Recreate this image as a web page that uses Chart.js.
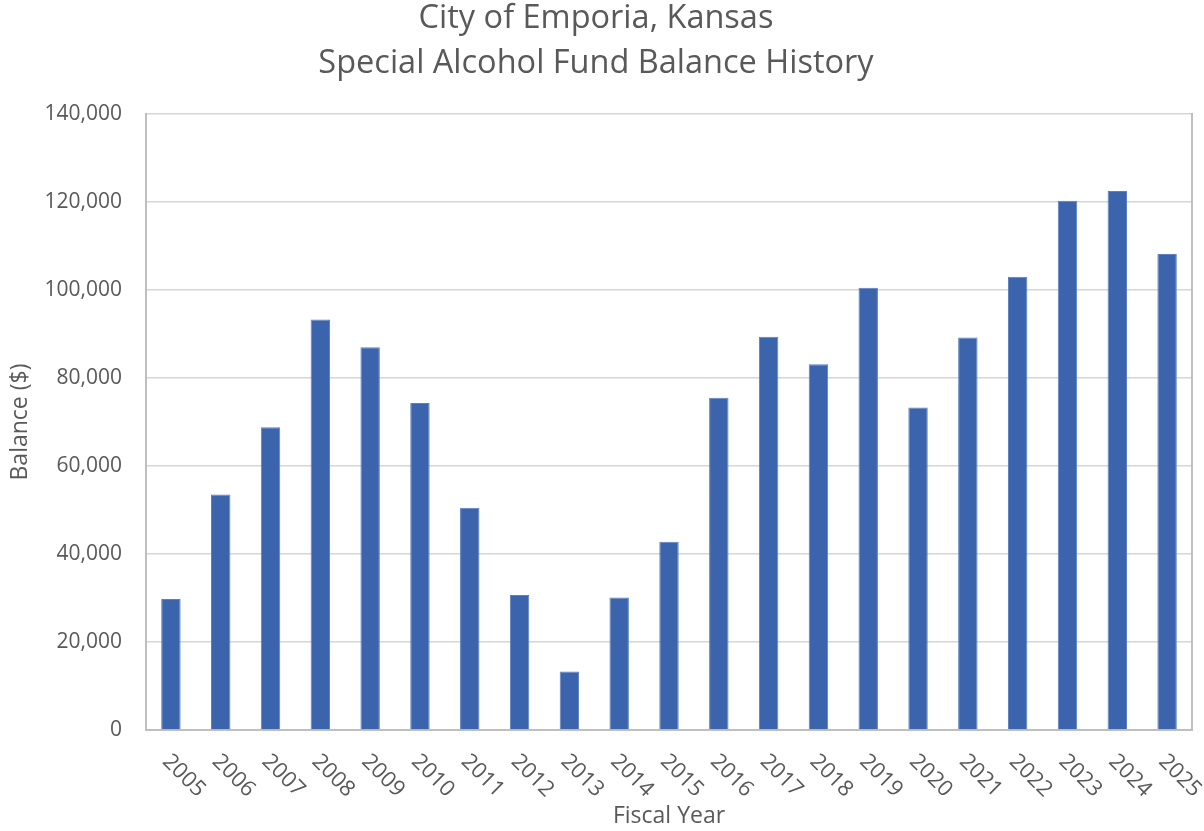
<!DOCTYPE html>
<html>
<head>
<meta charset="utf-8">
<script src="https://cdn.jsdelivr.net/npm/chart.js@4"></script>
<style>
    html, body { margin: 0; padding: 0; background: #ffffff; }
    canvas { display: block; }
</style>
</head>
<body>
<canvas id="fundChart" width="1204" height="831"></canvas>
<script>
var years = ['2005', '2006', '2007', '2008', '2009', '2010', '2011', '2012', '2013', '2014', '2015',
    '2016', '2017', '2018', '2019', '2020', '2021', '2022', '2023', '2024', '2025'];
var balances = [29800, 53500, 68800, 93300, 87000, 74300, 50500, 30700, 13300, 30100, 42800,
    75500, 89400, 83100, 100500, 73300, 89200, 103000, 120300, 122500, 108200];
var titleLines = ['City of Emporia, Kansas', 'Special Alcohol Fund Balance History'];

var textColor = '#595959';
var fontFamily = "'Open Sans', sans-serif";

// year labels are turned 45 degrees clockwise, drawn at each tick of the x scale
var slantedYears = {
    id: 'slantedYears',
    afterDraw: function (chart) {
        var ctx = chart.ctx;
        var xScale = chart.scales.x;
        ctx.save();
        ctx.font = '22px ' + fontFamily;
        ctx.fillStyle = textColor;
        ctx.textAlign = 'left';
        ctx.textBaseline = 'middle';
        years.forEach(function (year, i) {
            var x = xScale.getPixelForTick(i);
            ctx.save();
            ctx.translate(x - 5, xScale.top + 28);
            ctx.rotate(Math.PI / 4);
            ctx.fillText(year, 0, 0);
            ctx.restore();
        });
        ctx.restore();
    }
};

var ctx = document.getElementById('fundChart').getContext('2d');
new Chart(ctx, {
    type: 'bar',
    data: {
        labels: years,
        datasets: [{
            data: balances,
            backgroundColor: '#3c64ad',
            borderColor: '#5b7fc0',
            borderWidth: 1,
            categoryPercentage: 1,
            barPercentage: 0.39
        }]
    },
    options: {
        responsive: false,
        animation: false,
        layout: {
            padding: { top: 0, right: 12, bottom: 0, left: 0 }
        },
        plugins: {
            legend: { display: false },
            tooltip: { enabled: false },
            title: {
                display: true,
                text: titleLines,
                color: textColor,
                font: { family: fontFamily, size: 32.5, weight: 'normal', lineHeight: 1.385 },
                padding: { top: -4, bottom: 28 }
            }
        },
        scales: {
            x: {
                grid: { display: false },
                border: { display: true, color: '#bfbfbf', width: 2 },
                ticks: { display: false },
                title: {
                    display: true,
                    text: 'Fiscal Year',
                    color: textColor,
                    font: { family: fontFamily, size: 23 },
                    padding: { top: 0, bottom: 1 }
                },
                afterFit: function (scale) { scale.height = 101; }
            },
            y: {
                min: 0,
                max: 140000,
                ticks: {
                    stepSize: 20000,
                    padding: 24,
                    color: textColor,
                    font: { family: fontFamily, size: 21 },
                    callback: function (v) { return v.toLocaleString('en-US'); }
                },
                grid: { color: '#d6d6d6', lineWidth: 1.5, drawTicks: false },
                border: { display: true, color: '#bfbfbf', width: 2 },
                title: {
                    display: true,
                    text: 'Balance ($)',
                    color: textColor,
                    font: { family: fontFamily, size: 23 },
                    padding: { top: 7, bottom: 0 }
                },
                afterFit: function (scale) { scale.width = 146; }
            },
            yRight: {
                position: 'right',
                min: 0,
                max: 140000,
                ticks: { display: false },
                grid: { display: false, drawTicks: false },
                border: { display: true, color: '#bfbfbf', width: 2 },
                afterFit: function (scale) { scale.width = 0; }
            }
        }
    },
    plugins: [slantedYears]
});
</script>
</body>
</html>
